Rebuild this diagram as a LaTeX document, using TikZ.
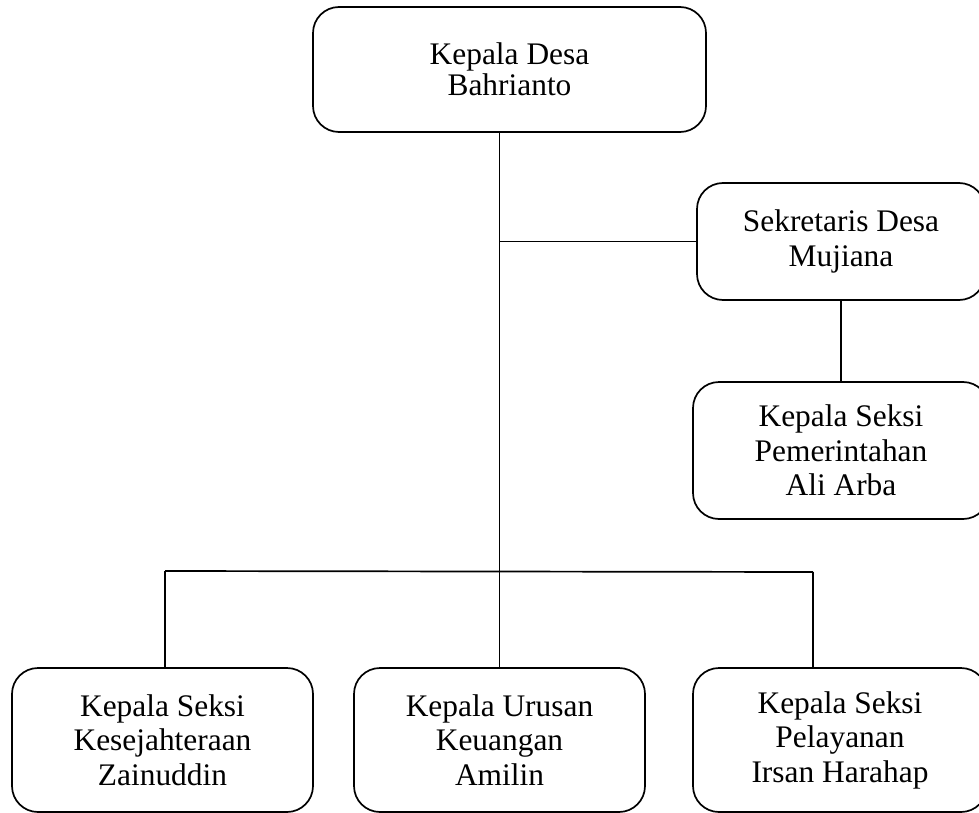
\documentclass[tikz,border=0pt]{standalone}
\usepackage{fontspec}
\setmainfont{Liberation Serif}
\begin{document}
\begin{tikzpicture}[x=1pt,y=-1pt,
  orgbox/.style={draw, line width=1.7pt, rounded corners=26pt, align=center,
    inner sep=0pt, font=\fontsize{31.4}{34.5}\selectfont},
  conn/.style={line width=1.7pt}]
\clip (0,0) rectangle (979,813);
\node[orgbox, minimum width=393pt, minimum height=125pt, font=\fontsize{31.4}{31}\selectfont] (top) at (509.5,69.5) {Kepala Desa\\Bahrianto};
\node[orgbox, minimum width=288pt, minimum height=117pt] (sek) at (841,241.5) {Sekretaris Desa\\Mujiana};
\node[orgbox, minimum width=296pt, minimum height=137pt] (pem) at (841,450.5) {Kepala Seksi\\Pemerintahan\\Ali Arba};
\node[orgbox, minimum width=301pt, minimum height=144pt] (b1) at (162.5,740) {Kepala Seksi\\Kesejahteraan\\Zainuddin};
\node[orgbox, minimum width=291pt, minimum height=144pt] (b2) at (499.5,740) {Kepala Urusan\\Keuangan\\Amilin};
\node[orgbox, minimum width=294pt, minimum height=144pt] (b3) at (840,740) {Kepala Seksi\\Pelayanan\\Irsan Harahap};
\coordinate (jl) at (165,571);
\coordinate (jr) at (813,572);
\draw[conn] (b2.north |- top.south) -- (b2.north);
\draw[conn] (sek.west) -- (sek.west -| b2.north);
\draw[conn] (sek.south) -- (pem.north);
\draw[conn] (jl) -- (jr);
\draw[conn] (jl) -- (jl |- b1.north);
\draw[conn] (jr) -- (jr |- b3.north);
\end{tikzpicture}
\end{document}
